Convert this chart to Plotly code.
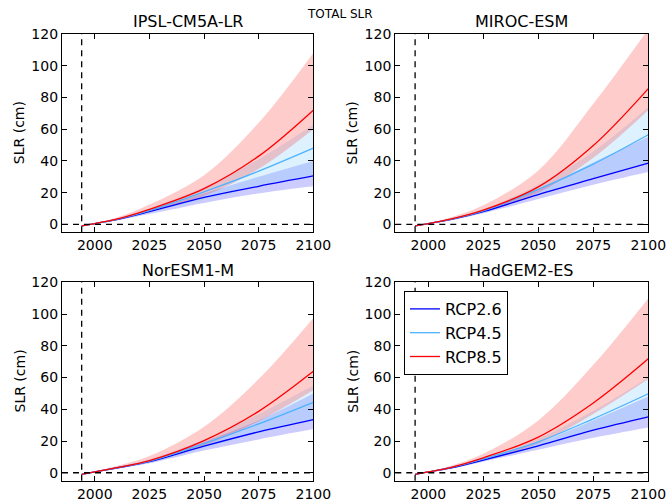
import plotly.graph_objects as go

# ---------------- data ----------------
years = [1994, 2000, 2010, 2025, 2050, 2075, 2100]
models = ["IPSL-CM5A-LR", "MIROC-ESM", "NorESM1-M", "HadGEM2-ES"]
scenarios = ["RCP2.6", "RCP4.5", "RCP8.5"]
x_ticks = [2000, 2025, 2050, 2075, 2100]
y_ticks = [0, 20, 40, 60, 80, 100, 120]
ref_year = 1994

# IPSL-CM5A-LR
ipsl_rcp26_lo = [-1, 0.3, 2.5, 6.5, 13.5, 19.5, 24]
ipsl_rcp26_med = [-1, 0.5, 3, 8, 17, 24, 30.5]
ipsl_rcp26_hi = [-1, 0.7, 3.5, 9, 19.5, 30, 40]
ipsl_rcp45_lo = [-1, 0.3, 2.7, 7.5, 15.5, 24, 31]
ipsl_rcp45_med = [-1, 0.5, 3.2, 8.7, 20.5, 33.5, 48]
ipsl_rcp45_hi = [-1, 0.7, 3.8, 10, 23.5, 41, 63]
ipsl_rcp85_lo = [-1, 0.3, 2.8, 8, 18, 35, 60]
ipsl_rcp85_med = [-1, 0.5, 3.3, 9.5, 22.5, 43, 72]
ipsl_rcp85_hi = [-1, 0.8, 4.3, 12.5, 31, 64, 108]

# MIROC-ESM
miroc_rcp26_lo = [-1, 0.3, 2.5, 7, 16, 25, 33]
miroc_rcp26_med = [-1, 0.5, 3, 8, 18.8, 28.8, 38.6]
miroc_rcp26_hi = [-1, 0.7, 3.5, 9, 22, 39, 55]
miroc_rcp45_lo = [-1, 0.3, 2.7, 7.5, 18.5, 29, 39]
miroc_rcp45_med = [-1, 0.5, 3.2, 8.5, 22, 38, 56.5]
miroc_rcp45_hi = [-1, 0.7, 3.8, 9.5, 25, 46, 74]
miroc_rcp85_lo = [-1, 0.3, 2.8, 8, 20, 42, 72]
miroc_rcp85_med = [-1, 0.5, 3.3, 9, 23.6, 49.7, 85.6]
miroc_rcp85_hi = [-1, 0.8, 4.3, 12, 34, 76, 123]

# NorESM1-M
noresm_rcp26_lo = [-1, 0.3, 2.5, 6, 14, 21, 27.5]
noresm_rcp26_med = [-1, 0.5, 3, 7, 16.8, 25.8, 33.5]
noresm_rcp26_hi = [-1, 0.7, 3.5, 8, 19.5, 33, 50]
noresm_rcp45_lo = [-1, 0.3, 2.6, 6.3, 15.5, 25, 33]
noresm_rcp45_med = [-1, 0.5, 3.1, 7.3, 18.4, 30.8, 44.4]
noresm_rcp45_hi = [-1, 0.7, 3.7, 8.5, 21, 37, 55]
noresm_rcp85_lo = [-1, 0.3, 2.7, 7, 17, 32.5, 52]
noresm_rcp85_med = [-1, 0.5, 3.2, 7.7, 20.3, 38.7, 63.9]
noresm_rcp85_hi = [-1, 0.8, 4.2, 10.5, 29, 59, 97.5]

# HadGEM2-ES
hadgem_rcp26_lo = [-1, 0.3, 2.5, 7, 14.5, 22, 28.5]
hadgem_rcp26_med = [-1, 0.5, 3, 8, 17, 26.8, 35.2]
hadgem_rcp26_hi = [-1, 0.7, 3.5, 8.5, 19, 33, 48]
hadgem_rcp45_lo = [-1, 0.3, 2.7, 7.5, 16, 26.5, 36]
hadgem_rcp45_med = [-1, 0.5, 3.2, 8.8, 19.5, 34, 49.8]
hadgem_rcp45_hi = [-1, 0.7, 3.8, 9.5, 21.5, 39, 60]
hadgem_rcp85_lo = [-1, 0.3, 2.8, 8.2, 18.5, 37, 59]
hadgem_rcp85_med = [-1, 0.5, 3.3, 9.4, 22.5, 44, 71.8]
hadgem_rcp85_hi = [-1, 0.8, 4.3, 12, 33, 68, 110]

data = {
    "IPSL-CM5A-LR": [(ipsl_rcp26_lo, ipsl_rcp26_med, ipsl_rcp26_hi),
                     (ipsl_rcp45_lo, ipsl_rcp45_med, ipsl_rcp45_hi),
                     (ipsl_rcp85_lo, ipsl_rcp85_med, ipsl_rcp85_hi)],
    "MIROC-ESM": [(miroc_rcp26_lo, miroc_rcp26_med, miroc_rcp26_hi),
                  (miroc_rcp45_lo, miroc_rcp45_med, miroc_rcp45_hi),
                  (miroc_rcp85_lo, miroc_rcp85_med, miroc_rcp85_hi)],
    "NorESM1-M": [(noresm_rcp26_lo, noresm_rcp26_med, noresm_rcp26_hi),
                  (noresm_rcp45_lo, noresm_rcp45_med, noresm_rcp45_hi),
                  (noresm_rcp85_lo, noresm_rcp85_med, noresm_rcp85_hi)],
    "HadGEM2-ES": [(hadgem_rcp26_lo, hadgem_rcp26_med, hadgem_rcp26_hi),
                   (hadgem_rcp45_lo, hadgem_rcp45_med, hadgem_rcp45_hi),
                   (hadgem_rcp85_lo, hadgem_rcp85_med, hadgem_rcp85_hi)],
}

# ---------------- styling ----------------
W, H = 669, 502
line_colors = ["#0000ff", "#4db2ff", "#ff0000"]
band_colors = ["rgba(0,0,255,0.2)", "rgba(135,206,250,0.28)", "rgba(255,0,0,0.2)"]
FONT = "DejaVu Sans"

# panel boxes in pixels (left, right, top, bottom)
panels = [(62, 313.3, 34, 232.3), (395.3, 648.3, 34, 232.3),
          (62, 313.3, 282.3, 480.7), (395.3, 648.3, 282.3, 480.7)]

fig = go.Figure()
layout = dict(template="none", width=W, height=H, margin=dict(l=0, r=0, t=0, b=0, pad=0),
              paper_bgcolor="white", plot_bgcolor="white", hovermode=False,
              font=dict(family=FONT, size=14, color="black"),
              showlegend=True)
annotations = []
shapes = []

for i, model in enumerate(models):
    n = "" if i == 0 else str(i + 1)
    xa, ya = "x" + n, "y" + n
    l, r, t, b = panels[i]
    common = dict(showgrid=False, zeroline=False, showline=True, linecolor="black",
                  linewidth=1.3, mirror="ticks", ticks="inside", ticklen=5,
                  tickwidth=1, tickcolor="black", automargin=False,
                  tickfont=dict(family=FONT, size=14, color="black"))
    layout["xaxis" + n] = dict(domain=[l / W, r / W], anchor=ya, range=[1985, 2100],
                               tickvals=x_ticks, **common)
    layout["yaxis" + n] = dict(domain=[1 - b / H, 1 - t / H], anchor=xa, range=[-5, 120],
                               tickvals=y_ticks, **common)
    # bands
    for j, (lo, med, hi) in enumerate(data[model]):
        fig.add_trace(go.Scatter(x=years, y=lo, xaxis=xa, yaxis=ya, mode="lines",
                                 line=dict(width=0, shape="spline", color=band_colors[j]),
                                 showlegend=False, hoverinfo="skip"))
        fig.add_trace(go.Scatter(x=years, y=hi, xaxis=xa, yaxis=ya, mode="lines",
                                 line=dict(width=0, shape="spline", color=band_colors[j]),
                                 fill="tonexty", fillcolor=band_colors[j],
                                 showlegend=False, hoverinfo="skip"))
    # medians
    for j, (lo, med, hi) in enumerate(data[model]):
        fig.add_trace(go.Scatter(x=years, y=med, xaxis=xa, yaxis=ya, mode="lines",
                                 name=scenarios[j],
                                 line=dict(width=1.3, shape="spline", color=line_colors[j]),
                                 showlegend=(i == 3)))
    # reference dashed lines
    shapes.append(dict(type="line", xref=xa, yref=ya + " domain", x0=ref_year, x1=ref_year,
                       y0=0, y1=1, line=dict(color="black", width=1.3, dash="6px,5px")))
    shapes.append(dict(type="line", xref=xa + " domain", yref=ya, x0=0, x1=1,
                       y0=0, y1=0, line=dict(color="black", width=1.3, dash="6px,5px")))
    # panel title
    annotations.append(dict(text=model, x=(l + r) / 2 / W, y=1 - (t - 12) / H,
                            xref="paper", yref="paper", showarrow=False,
                            xanchor="center", yanchor="middle",
                            font=dict(family=FONT, size=16, color="black")))
    # y axis title
    annotations.append(dict(text="SLR (cm)", x=(l - 43) / W, y=1 - (t + b) / 2 / H,
                            xref="paper", yref="paper", showarrow=False, textangle=-90,
                            xanchor="center", yanchor="middle",
                            font=dict(family=FONT, size=14, color="black")))

annotations.append(dict(text="TOTAL SLR", x=340 / W, y=1 - 14 / H, xref="paper", yref="paper",
                        showarrow=False, xanchor="center", yanchor="middle",
                        font=dict(family=FONT, size=12, color="black")))

layout["annotations"] = annotations
layout["shapes"] = shapes
layout["legend"] = dict(x=404 / W, y=1 - 291 / H, xanchor="left", yanchor="top",
                        traceorder="normal",
                        bgcolor="white", bordercolor="black", borderwidth=1,
                        font=dict(family=FONT, size=16, color="black"))
fig.update_layout(**layout)

post = ("document.body.style.margin='0';"
        "var gd=document.getElementById('{plot_id}');"
        "gd.style.position='absolute';gd.style.top='0px';gd.style.left='0px';")
fig.write_html("out.html", post_script=post, config={"displayModeBar": False})
